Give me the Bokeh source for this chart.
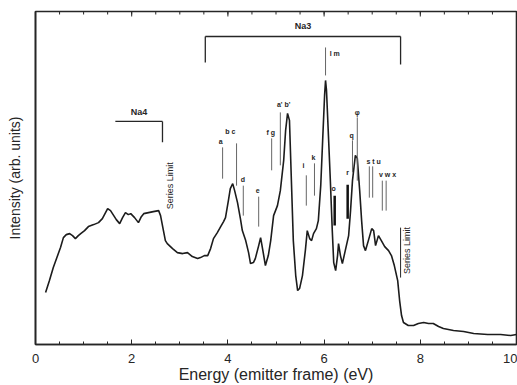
from bokeh.plotting import figure
from bokeh.models import FixedTicker
from bokeh.core.properties import value
from bokeh.embed import file_html
from bokeh.resources import INLINE

# ---- spectrum (energy in eV, intensity in arb. units) ----
energy = [0.21, 0.29, 0.37, 0.46, 0.52, 0.58, 0.64, 0.71, 0.77, 0.83,
          0.89, 0.94, 1.02, 1.10, 1.21, 1.31, 1.39, 1.50, 1.56, 1.60,
          1.68, 1.75, 1.81, 1.87, 1.93, 1.98, 2.06, 2.14, 2.20, 2.25,
          2.35, 2.45, 2.56, 2.60, 2.66, 2.70, 2.74, 2.85, 2.95, 3.06,
          3.16, 3.26, 3.37, 3.43, 3.51, 3.58, 3.64, 3.70, 3.78, 3.85,
          3.91, 3.95, 4.01, 4.05, 4.10, 4.14, 4.20, 4.26, 4.30, 4.37,
          4.43, 4.47, 4.53, 4.57, 4.64, 4.68, 4.72, 4.78, 4.84, 4.89,
          4.95, 5.03, 5.09, 5.16, 5.20, 5.24, 5.28, 5.32, 5.36, 5.41,
          5.45, 5.49, 5.55, 5.61, 5.65, 5.70, 5.74, 5.78, 5.84, 5.88,
          5.93, 5.97, 6.01, 6.03, 6.05, 6.09, 6.13, 6.17, 6.20, 6.24,
          6.28, 6.30, 6.34, 6.38, 6.44, 6.51, 6.55, 6.59, 6.65, 6.69,
          6.74, 6.78, 6.82, 6.86, 6.92, 6.99, 7.03, 7.07, 7.13, 7.19,
          7.26, 7.34, 7.40, 7.46, 7.53, 7.57, 7.61, 7.65, 7.75, 7.86,
          7.96, 8.07, 8.17, 8.27, 8.38, 8.48, 8.69, 8.90, 9.11, 9.40,
          9.67, 9.88, 10.0]
intensity = [15.6, 19.2, 23.1, 26.7, 29.1, 32.1, 33.0, 33.3, 32.7, 31.8,
             32.7, 33.3, 34.2, 35.4, 36.0, 36.6, 37.8, 40.8, 40.2, 39.3,
             37.5, 36.3, 38.1, 39.6, 39.0, 39.3, 38.1, 36.6, 38.4, 39.3,
             39.6, 39.9, 40.2, 38.7, 34.2, 31.2, 30.3, 28.8, 27.6, 27.3,
             27.6, 26.4, 25.8, 26.1, 26.7, 26.7, 28.8, 31.8, 33.6, 35.4,
             36.9, 38.1, 43.2, 46.8, 48.3, 46.2, 42.6, 37.8, 34.2, 31.2,
             27.6, 24.3, 24.6, 25.8, 29.7, 32.1, 28.8, 23.7, 26.7, 31.2,
             38.7, 41.7, 46.2, 55.3, 64.3, 69.4, 67.3, 49.2, 31.2, 20.7,
             16.2, 16.8, 20.7, 28.2, 34.2, 31.8, 31.2, 33.3, 34.8, 37.2,
             47.7, 61.3, 74.8, 79.3, 76.3, 62.8, 49.2, 34.2, 24.6, 22.2,
             26.7, 30.3, 26.7, 24.3, 28.2, 32.7, 40.2, 49.2, 56.8, 55.9,
             46.2, 37.2, 29.7, 28.2, 31.2, 34.8, 34.2, 29.7, 32.7, 31.2,
             29.4, 28.2, 26.7, 23.7, 19.2, 13.2, 8.7, 6.6, 5.7, 5.7,
             6.3, 6.6, 6.3, 6.3, 5.4, 4.8, 4.2, 3.9, 3.3, 3.0,
             3.0, 2.7, 3.0]

x_ticks = [0, 2, 4, 6, 8, 10]
x_minor = [0.5 * i for i in range(21)]
Y_MAX = 100

# ---- peak assignment labels ----
peak_labels = ["a", "b c", "d", "e", "f g", "a' b'", "i", "k", "l m",
               "o", "q", "\u03c6", "r", "s t u", "v w x"]
peak_label_E = [3.85, 4.05, 4.31, 4.62, 4.89, 5.16, 5.57, 5.78, 6.22,
                6.20, 6.57, 6.69, 6.49, 7.03, 7.32]
peak_label_I = [61.0, 64.0, 49.5, 46.2, 63.7, 72.1, 53.8, 56.2, 87.4,
                46.8, 62.8, 69.7, 51.7, 55.0, 51.1]

# thin marker lines under labels
mark_E = [3.89, 4.18, 4.32, 4.64, 4.91, 5.09, 5.63, 5.80, 6.03, 6.59,
          6.69, 6.94, 7.01, 7.21, 7.29]
mark_top = [59.2, 60.4, 47.7, 44.4, 61.9, 69.7, 50.8, 54.4, 89.2, 61.3,
            68.2, 53.5, 53.5, 49.2, 49.2]
mark_bot = [49.8, 47.7, 38.7, 35.4, 52.3, 53.8, 41.7, 44.7, 80.8, 51.7,
            49.2, 44.1, 44.1, 40.2, 40.2]
# heavy marker lines
heavy_E = [6.22, 6.49]
heavy_top = [44.7, 48.0]
heavy_bot = [35.7, 37.8]

# ---- series brackets ----
series_names = ["Na4", "Na3"]
series_start = [1.66, 3.53]
series_limit = [2.64, 7.59]
series_level = [67.0, 92.5]
series_left_drop = [67.0, 84.7]
series_right_drop = [60.7, 84.1]
series_label_I = [68.4, 94.2]
limit_text_E = [2.79, 7.73]
limit_text_I = [47.7, 28.2]
limit_line_top = [35.1]
limit_line_bot = [20.1]

INK = "#262626"
FONT = "Liberation Sans"

p = figure(width=517, height=385, x_range=(0, 10), y_range=(0, Y_MAX),
           output_backend="svg", toolbar_location=None,
           min_border_left=35, min_border_right=1, min_border_top=11,
           min_border_bottom=41)
p.grid.visible = False
p.outline_line_color = INK
p.outline_line_width = 1.6
p.background_fill_color = "white"
p.border_fill_color = "white"

# bottom axis
xa = p.xaxis[0]
xa.ticker = FixedTicker(ticks=x_ticks, minor_ticks=x_minor)
xa.major_tick_in = 5
xa.major_tick_out = 0
xa.minor_tick_in = 3
xa.minor_tick_out = 0
xa.axis_line_color = INK
xa.axis_line_width = 1.6
xa.major_tick_line_color = INK
xa.minor_tick_line_color = INK
xa.major_label_text_font = FONT
xa.major_label_text_font_size = "13px"
xa.major_label_text_color = INK
xa.major_label_standoff = 9
xa.axis_label = "Energy (emitter frame) (eV)"
xa.axis_label_text_font = FONT
xa.axis_label_text_font_size = "16px"
xa.axis_label_text_font_style = "normal"
xa.axis_label_text_color = INK
xa.axis_label_standoff = 0

# left axis
ya = p.yaxis[0]
ya.ticker = FixedTicker(ticks=[])
ya.major_tick_in = 0
ya.major_tick_out = 0
ya.minor_tick_in = 0
ya.minor_tick_out = 0
ya.axis_line_color = INK
ya.axis_line_width = 1.6
ya.axis_label = "Intensity (arb. units)"
ya.axis_label_text_font = FONT
ya.axis_label_text_font_size = "14px"
ya.axis_label_text_font_style = "normal"
ya.axis_label_text_color = INK
ya.axis_label_standoff = 13

# top frame ticks (inward), derived from the same tick lists
p.segment(x0=x_minor, y0=[Y_MAX] * len(x_minor), x1=x_minor,
          y1=[Y_MAX - 0.9] * len(x_minor), line_color=INK, line_width=1)
p.segment(x0=x_ticks, y0=[Y_MAX] * len(x_ticks), x1=x_ticks,
          y1=[Y_MAX - 1.5] * len(x_ticks), line_color=INK, line_width=1)

# spectrum
p.line(energy, intensity, line_color="#1c1c1c", line_width=1.6)

# series brackets
p.segment(x0=series_start, y0=series_level, x1=series_limit, y1=series_level,
          line_color=INK, line_width=1.3)
p.segment(x0=series_start, y0=series_level, x1=series_start, y1=series_left_drop,
          line_color=INK, line_width=1.3)
p.segment(x0=series_limit, y0=series_level, x1=series_limit, y1=series_right_drop,
          line_color=INK, line_width=1.3)
p.text(x=[(a + b) / 2 for a, b in zip(series_start, series_limit)],
       y=series_label_I, text=series_names, text_font=value(FONT),
       text_font_size="9px", text_font_style="bold", text_color=INK,
       text_align="center", text_baseline="bottom")

# series limit texts
p.text(x=limit_text_E, y=limit_text_I, text=["Series Limit"] * 2,
       angle=1.5708, text_font=value(FONT), text_font_size="9px",
       text_color=INK, text_align="center", text_baseline="middle")
p.segment(x0=[series_limit[1]], y0=limit_line_top,
          x1=[series_limit[1]], y1=limit_line_bot,
          line_color=INK, line_width=1)

# peak markers
p.segment(x0=mark_E, y0=mark_top, x1=mark_E, y1=mark_bot,
          line_color="#666666", line_width=1)
p.segment(x0=heavy_E, y0=heavy_top, x1=heavy_E, y1=heavy_bot,
          line_color="#111111", line_width=2.5)
p.text(x=peak_label_E, y=peak_label_I, text=peak_labels,
       text_font=value(FONT), text_font_size="7px", text_font_style="bold",
       text_color=INK, text_align="center", text_baseline="middle")

open("out.html", "w").write(file_html(p, INLINE))
